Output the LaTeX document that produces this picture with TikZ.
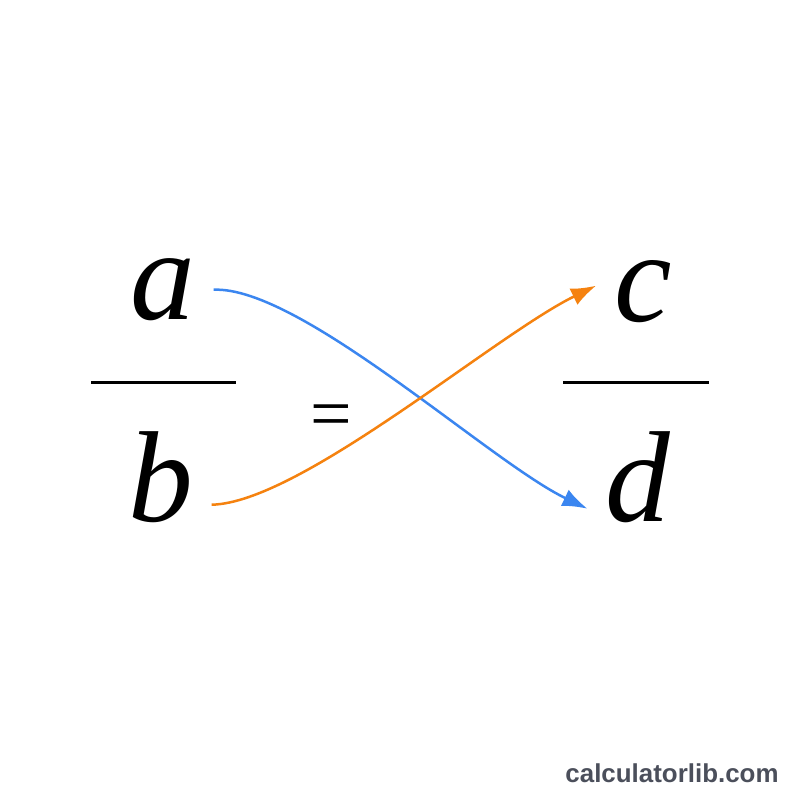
\documentclass[tikz,border=0pt]{standalone}
\usepackage{fontspec}
\setmainfont{Liberation Serif}
\newfontfamily\wmfont{Liberation Sans}
\usetikzlibrary{arrows.meta}
\definecolor{arcblue}{HTML}{3B86F0}
\definecolor{arcorange}{HTML}{F5820F}
\definecolor{wmgray}{HTML}{4B4F5B}
\tikzset{
  letter/.style={inner xsep=18bp,font=\fontsize{130}{130}\selectfont\itshape},
  bar/.style={line width=3bp},
  arc/.style={line width=2.5bp,-{Latex[length=25bp,width=18bp]}},
}
\begin{document}
\begin{tikzpicture}[>=latex,line join=bevel,]
\useasboundingbox[fill=white] (0bp,0bp) rectangle (800bp,800bp);
%%
\node (node_a) at (163bp,480bp) [anchor=base,letter] {a};
  \node (node_b) at (161bp,278bp) [anchor=base,letter] {b};
  \node (node_c) at (643bp,478bp) [anchor=base,letter] {c};
  \node (node_d) at (638bp,278bp) [anchor=base,letter] {d};
  \node (node_eq) at (331bp,378bp) [font=\fontsize{74}{74}\selectfont] {=};
  \draw [bar] (91bp,417bp) -- (236bp,417bp);
  \draw [bar] (563bp,417bp) -- (709bp,417bp);
  \draw [arc,arcblue] ([yshift=28bp]node_a.mid east) ..controls (300bp,514bp) and (490bp,338bp)  .. ([yshift=11bp]node_d.mid west);
  \draw [arc,arcorange] ([yshift=15bp]node_b.mid east) ..controls (300bp,297bp) and (495bp,465bp)  .. ([yshift=34bp]node_c.mid west);
%
\node (node_wm) at (672bp,27bp) [font=\wmfont\bfseries\fontsize{26}{26}\selectfont,text=wmgray] {calculatorlib.com};
\end{tikzpicture}
\end{document}
